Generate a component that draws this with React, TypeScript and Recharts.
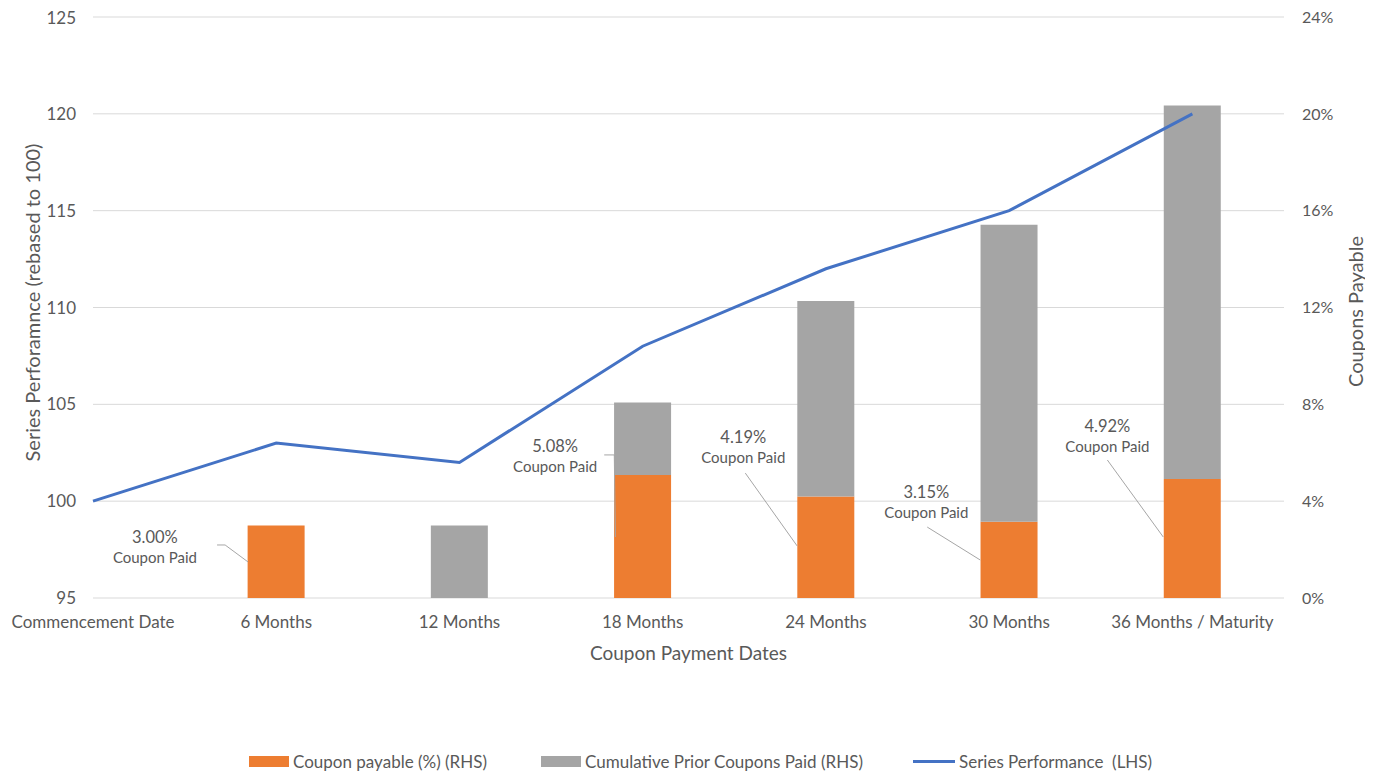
import React from "react";
import {
  ComposedChart, Bar, Line, XAxis, YAxis, CartesianGrid, Legend,
  ReferenceLine, ReferenceDot,
} from "recharts";

const categories = [
  "Commencement Date", "6 Months", "12 Months", "18 Months",
  "24 Months", "30 Months", "36 Months / Maturity",
];
const couponPayable = [null, 3.0, null, 5.08, 4.19, 3.15, 4.92];
const priorCoupons = [null, null, 3.0, 3.0, 8.08, 12.27, 15.42];
const performance = [100, 103, 102, 108, 112, 115, 120];

const leftTicks = [95, 100, 105, 110, 115, 120, 125];
const rightTicks = [0, 4, 8, 12, 16, 20, 24];

// annotation anchors in data units (category index, % on RHS)
const notes = [
  { text: "3.00%", x: 0.338, y: 2.07, leader: [[0.677, 2.19], [0.721, 2.19], [0.846, 1.49]] },
  { text: "5.08%", x: 2.522, y: 5.82, leader: [[2.79, 5.91], [2.845, 5.91], [2.851, 2.52]] },
  { text: "4.19%", x: 3.549, y: 6.18, leader: [[3.56, 5.16], [3.843, 2.15]] },
  { text: "3.15%", x: 4.548, y: 3.92, leader: [[4.553, 2.93], [4.842, 1.57]] },
  { text: "4.92%", x: 5.536, y: 6.67, leader: [[5.536, 5.7], [5.841, 2.52]] },
];

const data = categories.map((name, i) => ({
  idx: i,
  name,
  coupon: couponPayable[i],
  prior: priorCoupons[i],
  perf: performance[i],
}));

const FONT = "Lato, 'Liberation Sans', sans-serif";
const TXT = "#595959";
const ORANGE = "#ED7D31";
const GRAY = "#A5A5A5";
const BLUE = "#4472C4";

const NoteLabel = (text: string) => (props: any) => {
  const { viewBox } = props;
  const cx = viewBox.cx ?? viewBox.x;
  const cy = viewBox.cy ?? viewBox.y;
  return (
    <g>
      <text x={cx} y={cy - 5} textAnchor="middle" fontSize={16.5} fill={TXT} fontFamily={FONT}>
        {text}
      </text>
      <text x={cx} y={cy + 15} textAnchor="middle" fontSize={15} fill={TXT} fontFamily={FONT}>
        Coupon Paid
      </text>
    </g>
  );
};

const legendItems = [
  { label: "Coupon payable (%) (RHS)", color: ORANGE, kind: "rect", w: 292 },
  { label: "Cumulative Prior Coupons Paid (RHS)", color: GRAY, kind: "rect", w: 372 },
  { label: "Series Performance  (LHS)", color: BLUE, kind: "line", w: 260 },
];

const LegendContent = () => (
  <div style={{ display: "flex", fontFamily: FONT, fontSize: 17, color: TXT, paddingLeft: 241 }}>
    {legendItems.map((it) => (
      <div key={it.label} style={{ display: "flex", alignItems: "center", gap: 4, whiteSpace: "pre", width: it.w }}>
        {it.kind === "rect" ? (
          <span style={{ display: "inline-block", width: 40, height: 11, background: it.color }} />
        ) : (
          <span style={{ display: "inline-block", width: 42, height: 3, background: it.color }} />
        )}
        <span>{it.label}</span>
      </div>
    ))}
  </div>
);

export default function App() {
  return (
    <ComposedChart
      width={1365}
      height={766}
      data={data}
      margin={{ top: 9, right: 0, bottom: 0, left: 0 }}
    >
      <CartesianGrid vertical={false} stroke="#D9D9D9" yAxisId="left" />
      <XAxis
        dataKey="idx"
        type="number"
        domain={[0, 6.5]}
        ticks={[0, 1, 2, 3, 4, 5, 6]}
        tickFormatter={(v: number) => categories[v] ?? ""}
        axisLine={false}
        tickLine={false}
        tickSize={0}
        tickMargin={18}
        height={155}
        interval={0}
        tick={{ fill: TXT, fontSize: 17, fontFamily: FONT }}
        label={{ value: "Coupon Payment Dates", position: "insideTop", offset: 49, fill: TXT, fontSize: 19, fontFamily: FONT }}
      />
      <YAxis
        yAxisId="left"
        domain={[95, 125]}
        ticks={leftTicks}
        width={85}
        axisLine={false}
        tickLine={false}
        tickSize={0}
        tickMargin={17}
        tick={{ fill: TXT, fontSize: 17, fontFamily: FONT }}
        label={(p: any) => {
          const vb = p.viewBox;
          const x = vb.x + 24;
          const y = vb.y + vb.height / 2 - 5;
          return (
            <text x={x} y={y} transform={`rotate(-90 ${x} ${y})`} textAnchor="middle" dominantBaseline="central" fontSize={20} fill={TXT} fontFamily={FONT}>
              Series Perforamnce (rebased to 100)
            </text>
          );
        }}
      />
      <YAxis
        yAxisId="right"
        orientation="right"
        domain={[0, 24]}
        ticks={rightTicks}
        tickFormatter={(v: number) => `${v}%`}
        width={89}
        axisLine={false}
        tickLine={false}
        tickSize={0}
        tickMargin={18}
        tick={{ fill: TXT, fontSize: 16, fontFamily: FONT, textAnchor: "start" }}
        label={(p: any) => {
          const vb = p.viewBox;
          const x = vb.x + 71;
          const y = vb.y + vb.height / 2 + 4;
          return (
            <text x={x} y={y} transform={`rotate(-90 ${x} ${y})`} textAnchor="middle" dominantBaseline="central" fontSize={20} fill={TXT} fontFamily={FONT}>
              Coupons Payable
            </text>
          );
        }}
      />
      <Legend verticalAlign="bottom" content={<LegendContent />} wrapperStyle={{ bottom: 2 }} />
      <Bar yAxisId="right" dataKey="coupon" stackId="c" fill={ORANGE} barSize={57} isAnimationActive={false} />
      <Bar yAxisId="right" dataKey="prior" stackId="c" fill={GRAY} barSize={57} isAnimationActive={false} />
      <Line yAxisId="left" dataKey="perf" stroke={BLUE} strokeWidth={3} dot={false} isAnimationActive={false} />
      {notes.map((n) =>
        n.leader.slice(1).map((pt, j) => (
          <ReferenceLine
            key={`${n.text}-${j}`}
            yAxisId="right"
            segment={[{ x: n.leader[j][0], y: n.leader[j][1] }, { x: pt[0], y: pt[1] }]}
            stroke="#A6A6A6"
            strokeWidth={1}
          />
        ))
      )}
      {notes.map((n) => (
        <ReferenceDot
          key={n.text}
          yAxisId="right"
          x={n.x}
          y={n.y}
          r={0}
          stroke="none"
          fill="none"
          label={NoteLabel(n.text)}
        />
      ))}
    </ComposedChart>
  );
}
